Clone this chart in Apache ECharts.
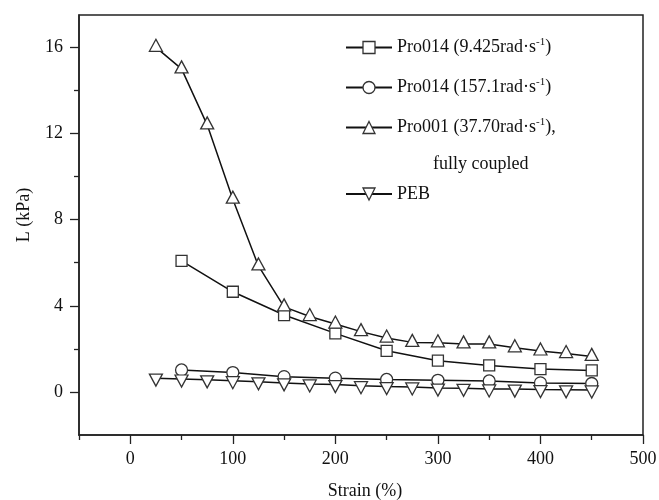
<!DOCTYPE html>
<html><head><meta charset="utf-8">
<script src="https://cdn.jsdelivr.net/npm/echarts@6/dist/echarts.min.js"></script>
<style>html,body{margin:0;padding:0;background:#fff}#c{width:659px;height:500px}</style>
</head><body><div id="c"></div>
<script>
const strain25 = [25,50,75,100,125,150,175,200,225,250,275,300,325,350,375,400,425,450];
const strain50 = [50,100,150,200,250,300,350,400,450];
const pro001_3770 = [16.0,15.0,12.4,8.95,5.85,3.95,3.5,3.15,2.8,2.5,2.3,2.28,2.23,2.23,2.05,1.9,1.78,1.65];
const pro014_9425 = [6.08,4.65,3.57,2.72,1.91,1.45,1.23,1.06,1.0];
const pro014_1571 = [1.02,0.9,0.71,0.64,0.58,0.54,0.51,0.42,0.39];
const peb = [0.64,0.6,0.56,0.52,0.47,0.42,0.37,0.34,0.29,0.25,0.23,0.18,0.17,0.14,0.13,0.11,0.1,0.09];
const xMajorTicks = [0,100,200,300,400,500];
const xMinorTicks = [-50,50,150,250,350,450];
const yMajorTicks = [0,4,8,12,16];
const yMinorTicks = [2,6,10,14];
const names = ['Pro014 (9.425rad·s-1)','Pro014 (157.1rad·s-1)','Pro001 (37.70rad·s-1)','PEB'];
const legendRich = {
  '0': ['Pro014 (9.425rad·s', ')'],
  '1': ['Pro014 (157.1rad·s', ')'],
  '2': ['Pro001 (37.70rad·s', '),'],
};

const FONT = '"Liberation Serif","Times New Roman",serif';
const INK = '#111';
const pair = (xs, ys) => xs.map((x, i) => [x, ys[i]]);

const chart = echarts.init(document.getElementById('c'));
const baseSeries = {
  type: 'line', smooth: false, showSymbol: true,
  lineStyle: { color: INK, width: 1.5 },
  itemStyle: { color: '#fff', borderColor: '#333', borderWidth: 1.3 },
  emphasis: { disabled: true },
  animation: false, z: 3
};
chart.setOption({
  animation: false,
  grid: { left: 79, right: 16, top: 15, bottom: 65, show: true, borderColor: '#222', borderWidth: 1.5,
          containLabel: false, outerBoundsMode: 'none' },
  xAxis: [{
    type: 'value', min: -50, max: 500,
    name: 'Strain (%)', nameLocation: 'middle', nameGap: 47,
    nameTextStyle: { fontFamily: FONT, fontSize: 18, color: INK, padding: [0,0,0,8] },
    axisLine: { show: true, onZero: false, lineStyle: { color: '#222', width: 1.5 } },
    axisTick: { show: true, inside: false, customValues: xMajorTicks, length: 9, lineStyle: { color: '#222', width: 1.3 } },
    axisLabel: { customValues: xMajorTicks, margin: 15, fontFamily: FONT, fontSize: 18, color: INK },
    splitLine: { show: false }
  }, {
    type: 'value', min: -50, max: 500, position: 'bottom',
    axisLine: { show: false, onZero: false },
    axisTick: { show: true, inside: false, customValues: xMinorTicks, length: 5, lineStyle: { color: '#222', width: 1.3 } },
    axisLabel: { show: false }, splitLine: { show: false }
  }],
  yAxis: [{
    type: 'value', min: -2, max: 17.5,
    name: 'L (kPa)', nameLocation: 'middle', nameGap: 46,
    nameTextStyle: { fontFamily: FONT, fontSize: 18, color: INK, padding: [0,0,0,20] },
    axisLine: { show: true, onZero: false, lineStyle: { color: '#222', width: 1.5 } },
    axisTick: { show: true, inside: false, customValues: yMajorTicks, length: 9, lineStyle: { color: '#222', width: 1.3 } },
    axisLabel: { customValues: yMajorTicks, margin: 16, fontFamily: FONT, fontSize: 18, color: INK },
    splitLine: { show: false }
  }, {
    type: 'value', min: -2, max: 17.5, position: 'left',
    axisLine: { show: false, onZero: false },
    axisTick: { show: true, inside: false, customValues: yMinorTicks, length: 5, lineStyle: { color: '#222', width: 1.3 } },
    axisLabel: { show: false }, splitLine: { show: false }
  }],
  legend: [{
    orient: 'vertical', left: 340, top: 32, itemGap: 19,
    itemWidth: 46, itemHeight: 15, itemStyle: { borderWidth: 1.3 },
    data: names.slice(0, 3),
    formatter: (n) => { const r = legendRich[names.indexOf(n)]; return '{a|' + r[0] + '}{s|-1}{a|' + r[1] + '}'; },
    textStyle: { rich: {
      a: { fontFamily: FONT, fontSize: 18, color: INK, lineHeight: 22 },
      s: { fontFamily: FONT, fontSize: 11, color: INK, lineHeight: 22, padding: [0, 0, 10, 0] }
    } }
  }, {
    orient: 'vertical', left: 340, top: 178,
    itemWidth: 46, itemHeight: 15, itemStyle: { borderWidth: 1.3 },
    data: [names[3]],
    textStyle: { fontFamily: FONT, fontSize: 18, color: INK, lineHeight: 22 }
  }],
  graphic: [{
    type: 'text', left: 433, top: 155,
    style: { text: 'fully coupled', fontFamily: FONT, fontSize: 18, fill: INK }
  }],
  series: [
    Object.assign({}, baseSeries, { name: names[0], symbol: 'rect', symbolSize: 11, data: pair(strain50, pro014_9425) }),
    Object.assign({}, baseSeries, { name: names[1], symbol: 'circle', symbolSize: 12, data: pair(strain50, pro014_1571) }),
    Object.assign({}, baseSeries, { name: names[2], symbol: 'triangle', symbolSize: [13, 12], symbolOffset: [0, -2], data: pair(strain25, pro001_3770) }),
    Object.assign({}, baseSeries, { name: names[3], symbol: 'triangle', symbolRotate: 180, symbolSize: [13, 12], symbolOffset: [0, 2], data: pair(strain25, peb) })
  ]
});
</script></body></html>
